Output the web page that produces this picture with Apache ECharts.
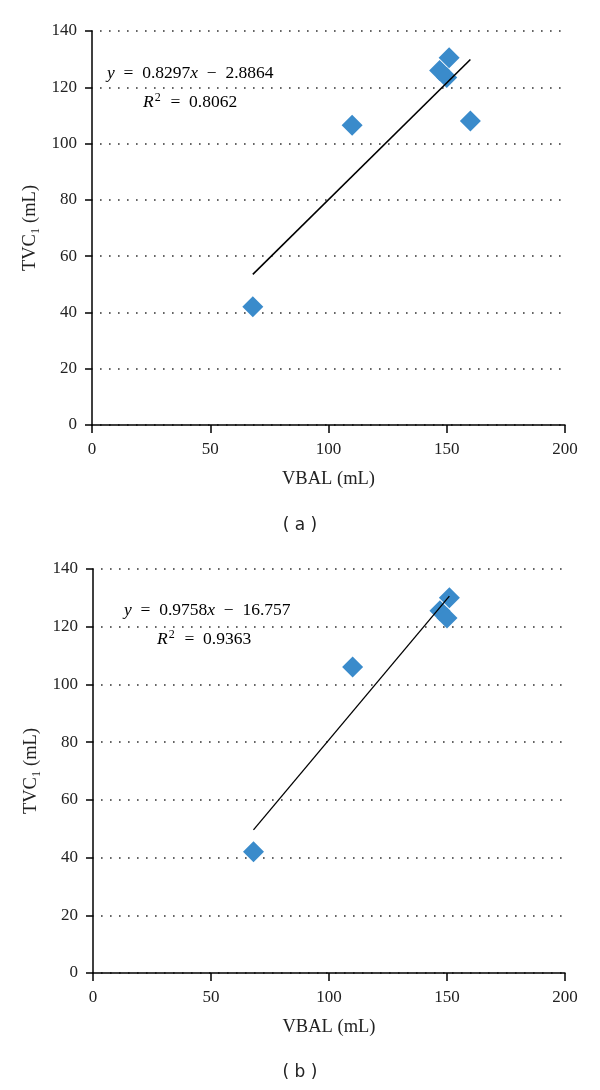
<!DOCTYPE html>
<html><head><meta charset="utf-8">
<script src="https://cdn.jsdelivr.net/npm/echarts@6/dist/echarts.min.js"></script>
<style>html,body{margin:0;padding:0;background:#fff}#c{width:600px;height:1090px}</style>
</head><body><div id="c"></div>
<script>
// Panel (a)
const xA = [68, 110, 147, 150, 151, 160];
const yA = [42, 106.5, 126, 123.5, 130.5, 108];
const fitA = {slope: 0.8297, intercept: -2.8864, r2: '0.8062', xFrom: 68, xTo: 160};
// Panel (b)
const xB = [68, 110, 147, 150, 151];
const yB = [42, 106, 125.5, 123, 130];
const fitB = {slope: 0.9758, intercept: -16.757, r2: '0.9363', xFrom: 68, xTo: 151};
const xTicks = [0, 50, 100, 150, 200];
const yTicks = [0, 20, 40, 60, 80, 100, 120, 140];

const FONT = '"Liberation Serif", "DejaVu Serif", serif';
const BLUE = '#3a8bcb';

function pts(xs, ys){ return xs.map((x,i)=>[x, ys[i]]); }
function fitLine(f){ return [[f.xFrom, f.slope*f.xFrom+f.intercept],[f.xTo, f.slope*f.xTo+f.intercept]]; }

function xAxis(gi){
  return {type:'value', gridIndex:gi, min:xTicks[0], max:xTicks[xTicks.length-1], interval:50,
    name:'VBAL (mL)', nameLocation:'middle', nameGap:45,
    nameTextStyle:{fontFamily:FONT, fontSize:18.5, color:'#222'},
    axisLine:{show:true, onZero:false, lineStyle:{color:'#000', width:1.5}},
    axisTick:{show:true, length:8, lineStyle:{color:'#000', width:1.5}},
    axisLabel:{fontFamily:FONT, fontSize:17, color:'#222', margin:16},
    splitLine:{show:false}};
}
function yAxis(gi){
  return {type:'value', gridIndex:gi, min:yTicks[0], max:yTicks[yTicks.length-1], interval:20,
    name:'TVC\u2081 (mL)', nameLocation:'middle', nameGap:52, nameRotate:90,
    nameTextStyle:{fontFamily:FONT, fontSize:18.5, color:'#222'},
    axisLine:{show:true, onZero:false, lineStyle:{color:'#000', width:1.5}},
    axisTick:{show:true, length:7, lineStyle:{color:'#000', width:1.5}},
    axisLabel:{fontFamily:FONT, fontSize:17, color:'#222', margin:15},
    splitLine:{show:true, lineStyle:{color:'#333', width:1.6, type:[1.6, 7.4], dashOffset:-8}}};
}

const rich = {
  i:{fontFamily:FONT, fontStyle:'italic', fontSize:17.5, color:'#222'},
  n:{fontFamily:FONT, fontSize:17.5, color:'#222'},
  sup:{fontFamily:FONT, fontSize:12, color:'#222', verticalAlign:'top', padding:[0,1,9,1]}
};
function eqText(f){
  const b = f.intercept < 0 ? '  \u2212  ' + Math.abs(f.intercept) : '  +  ' + f.intercept;
  return '{i|y}{n|  =  ' + f.slope + '}{i|x}{n|' + b + '}';
}
function r2Text(f){ return '{i|R}{sup|2}{n|  =  ' + f.r2 + '}'; }

function label(x, y, text){
  return {type:'text', x:x, y:y, style:{text:text, rich:rich, verticalAlign:'middle', align:'left'}};
}

const chart = echarts.init(document.getElementById('c'));
chart.setOption({
  backgroundColor:'#fff',
  animation:false,
  grid:[
    {left:92, right:35, top:31, height:394},
    {left:93, right:35, top:569, height:404}
  ],
  xAxis:[xAxis(0), xAxis(1)],
  yAxis:[yAxis(0), yAxis(1)],
  title:[
    {text:'( a )', left:'center', top:512, textStyle:{fontFamily:'"DejaVu Sans", sans-serif', fontSize:17, fontWeight:'normal', color:'#222'}},
    {text:'( b )', left:'center', top:1059, textStyle:{fontFamily:'"DejaVu Sans", sans-serif', fontSize:17, fontWeight:'normal', color:'#222'}}
  ],
  graphic:[
    label(107, 73, eqText(fitA)),
    label(143, 102, r2Text(fitA)),
    label(124, 610, eqText(fitB)),
    label(157, 639, r2Text(fitB))
  ],
  series:[
    {type:'scatter', xAxisIndex:0, yAxisIndex:0, data:pts(xA,yA), symbol:'diamond', symbolSize:[21,21],
      itemStyle:{color:BLUE, opacity:1}, z:2},
    {type:'line', xAxisIndex:0, yAxisIndex:0, data:fitLine(fitA), symbol:'none',
      lineStyle:{color:'#000', width:1.6}, z:3},
    {type:'scatter', xAxisIndex:1, yAxisIndex:1, data:pts(xB,yB), symbol:'diamond', symbolSize:[21,21],
      itemStyle:{color:BLUE, opacity:1}, z:2},
    {type:'line', xAxisIndex:1, yAxisIndex:1, data:fitLine(fitB), symbol:'none',
      lineStyle:{color:'#000', width:1.3}, z:3}
  ]
});
</script></body></html>
